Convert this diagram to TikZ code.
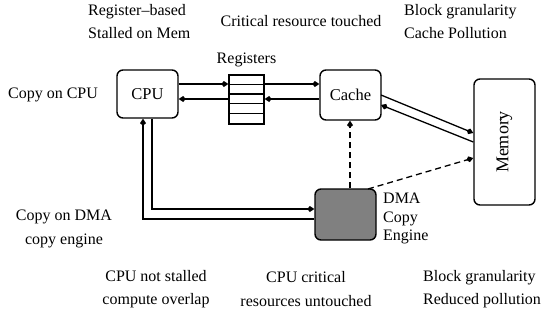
\documentclass[tikz,border=0pt]{standalone}
\usepackage{fontspec}
\setmainfont{Liberation Serif}
\usetikzlibrary{arrows.meta}
\begin{document}
\begin{tikzpicture}[x=1pt,y=-1pt,
  box/.style={draw,line width=1.4pt,rounded corners=6pt,inner sep=0pt},
  arr/.style={line width=1.3pt,-{Kite[length=7pt,width=6pt,inset=2.5pt]}},
  dsh/.style={arr,dash pattern=on 6pt off 4pt},
  txt/.style={font=\fontsize{16}{23.5}\selectfont,inner sep=0pt},
  every node/.style={font=\fontsize{16.5}{20}\selectfont}]
\useasboundingbox (0,0) rectangle (548,324);
% boxes
\node[box,minimum width=61pt,minimum height=48pt] (cpu) at (147.5,94) {CPU};
\node[box,minimum width=61pt,minimum height=50pt] (cache) at (350.5,95) {Cache};
\node[box,minimum width=61pt,minimum height=126pt] (mem) at (504.5,142) {};
\node[rotate=90,inner sep=0pt,font=\fontsize{18}{20}\selectfont] (memlbl) at (mem) {Memory};
\node[box,fill=black!50,minimum width=61pt,minimum height=51pt] (dma) at (345.5,214.5) {};
\node[draw,line width=1.3pt,minimum width=35pt,minimum height=49pt,inner sep=0pt] (reg) at (246.5,99.5) {};
\foreach \i in {1,2,3,4} \draw[line width=1.3pt] ([yshift=-\i*9.8pt]reg.north west) -- ([yshift=-\i*9.8pt]reg.north east);
\node[txt] (reglbl) at (246.5,60) {Registers};
% CPU <-> registers <-> cache
\draw[arr] (cpu.east |- 0,84) -- (reg.west |- 0,84);
\draw[arr] (reg.east |- 0,84) -- (cache.west |- 0,84);
\draw[arr] (cache.west |- 0,99) -- (reg.east |- 0,99);
\draw[arr] (reg.west |- 0,99) -- (cpu.east |- 0,99);
% cache <-> memory
\coordinate (c1) at (381,95);
\coordinate (c2) at (381,105);
\draw[arr] (c1) -- (mem.west |- 0,133);
\draw[arr] (mem.west |- 0,142) -- (c2);
% CPU <-> DMA
\draw[arr] (dma.west |- 0,219) -| (cpu.south -| 143,0);
\draw[arr] (cpu.south -| 152,0) |- (dma.west |- 0,209);
% dashed
\draw[dsh] (dma.north -| 350,0) -- (cache.south -| 350,0);
\coordinate (d1) at (368,189);
\draw[dsh] (d1) -- (mem.west |- 0,158);
% labels
\node[txt,align=left,anchor=north west] (t1) at (88,4) {Register--based\\Stalled on Mem};
\node[txt] (t2) at (301,21) {Critical resource touched};
\node[txt,align=left,anchor=north west] (t3) at (404,4) {Block granularity\\Cache Pollution};
\node[txt] (t4) at (53,95) {Copy on CPU};
\node[txt,align=center] (t5) at (64,229) {Copy on DMA\\copy engine};
\node[txt,align=left,anchor=north west,font=\fontsize{16}{18.5}\selectfont] (t6) at (383,193) {DMA\\Copy\\Engine};
\node[txt,align=center] (t7) at (156,289) {CPU not stalled\\compute overlap};
\node[txt,align=center] (t8) at (306,289) {CPU critical\\resources untouched};
\node[txt,align=left,anchor=west] (t9) at (423,289) {Block granularity\\Reduced pollution};
\end{tikzpicture}
\end{document}
